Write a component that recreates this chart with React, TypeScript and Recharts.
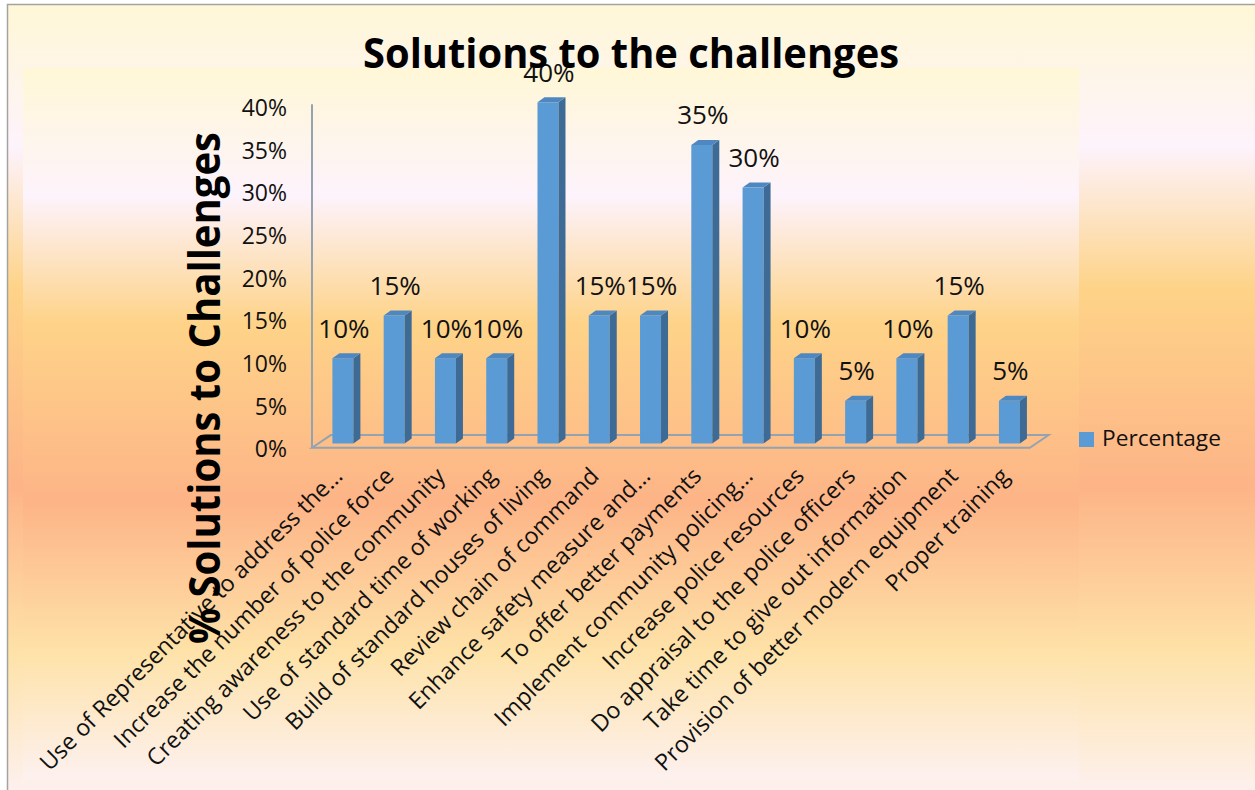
import React from "react";
import { Bar, BarChart, LabelList, ReferenceArea, XAxis, YAxis } from "recharts";

const categories = [
  "Use of Representative to address the…",
  "Increase the number of police force",
  "Creating awareness to the community",
  "Use of standard time of working",
  "Build of standard houses of living",
  "Review chain of command",
  "Enhance safety measure and…",
  "To offer better payments",
  "Implement community policing…",
  "Increase police resources",
  "Do appraisal to the police officers",
  "Take time to give out information",
  "Provision of better modern equipment",
  "Proper training",
];
const percentage = [0.1, 0.15, 0.1, 0.1, 0.4, 0.15, 0.15, 0.35, 0.3, 0.1, 0.05, 0.1, 0.15, 0.05];
const yTicks = [0, 0.05, 0.1, 0.15, 0.2, 0.25, 0.3, 0.35, 0.4];

const title = "Solutions to the challenges";
const yTitle = "% Solutions to Challenges";
const seriesName = "Percentage";

const data = categories.map((name, i) => ({ name, value: percentage[i] }));

const FONT = "'Open Sans', 'DejaVu Sans', sans-serif";
const pct = (v: number) => `${Math.round(v * 100)}%`;

const Bar3D = (props: any) => {
  const { x, y, width, height } = props;
  if (!height || height <= 0) return null;
  const dx = 7, dy = 5;
  return (
    <g>
      <rect x={x} y={y} width={width} height={height} fill="#5b9bd5" />
      <polygon
        points={`${x + width},${y} ${x + width + dx},${y - dy} ${x + width + dx},${y + height - dy} ${x + width},${y + height}`}
        fill="#3d6b96"
      />
      <polygon
        points={`${x},${y} ${x + dx},${y - dy} ${x + width + dx},${y - dy} ${x + width},${y}`}
        fill="#4f88c0"
      />
    </g>
  );
};

// floor of the 3D plot, drawn from the reference area's rect
const Floor = (props: any) => {
  const { x, y, width, height } = props;
  const fx = x - 5.4, bx = x + 13.4;
  return (
    <polygon
      points={`${fx},${y + height} ${bx},${y} ${bx + width},${y} ${fx + width},${y + height}`}
      fill="none"
      stroke="#95a3b0"
      strokeWidth={2}
    />
  );
};

const Wall = (props: any) => {
  const { x, y, height } = props;
  return <line x1={x - 5.4} y1={y + 2} x2={x - 5.4} y2={y + height} stroke="#95a3b0" strokeWidth={2} />;
};

const YTick = ({ x, y, payload }: any) => (
  <text x={x - 30.4} y={y + 5.5} dy="0.36em" textAnchor="end" fontFamily={FONT} fontSize={23} fill="#111">
    {pct(payload.value)}
  </text>
);

const XTick = ({ x, y, payload }: any) => {
  const ax = x + 1, ay = y + 34;
  return (
    <text
      x={ax}
      y={ay}
      transform={`rotate(-45, ${ax}, ${ay})`}
      textAnchor="end"
      fontFamily={FONT}
      fontSize={23.2}
      fill="#111"
    >
      {payload.value}
    </text>
  );
};

const ValueLabel = (props: any) => {
  const { x, y, width, value } = props;
  return (
    <text x={x + width / 2 + 1} y={y - 30} dy="0.36em" textAnchor="middle" fontFamily={FONT} fontSize={26} fill="#111">
      {pct(value)}
    </text>
  );
};

export default function App() {
  return (
    <div style={{ position: "absolute", left: 0, top: 0, width: 1255, height: 790 }}>
      <svg width={1255} height={790} style={{ position: "absolute", left: 0, top: 0 }}>
        <defs>
          <linearGradient id="bg" x1="0" y1="0" x2="0" y2="1">
            <stop offset="0" stopColor="#fff7d6" />
            <stop offset="0.18" stopColor="#fdf3fc" />
            <stop offset="0.36" stopColor="#fed388" />
            <stop offset="0.61" stopColor="#fdb487" />
            <stop offset="0.82" stopColor="#fee2a8" />
            <stop offset="1" stopColor="#fdf1f0" />
          </linearGradient>
        </defs>
        <rect x={7.5} y={4.5} width={1250} height={790} fill="url(#bg)" stroke="#a3a3a3" strokeWidth={1.5} />
        <rect x={23} y={68} width={1056} height={712} fill="url(#bg)" />
      </svg>

      <div style={{ position: "absolute", left: 0, top: 0 }}>
        <BarChart
          width={1255}
          height={790}
          data={data}
          margin={{ top: 102.3, right: 219.8, left: 0, bottom: 0 }}
        >
          <XAxis
            dataKey="name"
            height={346.5}
            axisLine={false}
            tickLine={false}
            tickSize={0}
            tickMargin={0}
            interval={0}
            tick={<XTick />}
          />
          <YAxis
            width={317.4}
            domain={[0, 0.4]}
            ticks={yTicks}
            axisLine={false}
            tickLine={false}
            tickSize={0}
            tickMargin={0}
            tick={<YTick />}
          />
          <ReferenceArea y1={-0.005} y2={0.4} ifOverflow="visible" shape={<Wall />} />
          <ReferenceArea y1={-0.005} y2={0.0099} ifOverflow="visible" shape={<Floor />} />
          <Bar dataKey="value" name={seriesName} barSize={21} shape={<Bar3D />} isAnimationActive={false}>
            <LabelList dataKey="value" content={<ValueLabel />} />
          </Bar>
        </BarChart>
      </div>

      <svg width={1255} height={790} style={{ position: "absolute", left: 0, top: 0, pointerEvents: "none" }}>
        <text
          x={631}
          y={68}
          textAnchor="middle"
          fontFamily={FONT}
          fontWeight="bold"
          fontSize={42}
          textLength={536}
          lengthAdjust="spacingAndGlyphs"
          fill="#000"
        >
          {title}
        </text>
        <text
          x={0}
          y={0}
          transform="translate(220, 388) rotate(-90)"
          textAnchor="middle"
          fontFamily={FONT}
          fontWeight="bold"
          fontSize={43}
          textLength={512}
          lengthAdjust="spacingAndGlyphs"
          fill="#000"
        >
          {yTitle}
        </text>
        <rect x={1079} y={432} width={15} height={15} fill="#5b9bd5" />
        <text x={1102} y={446} fontFamily={FONT} fontSize={22.7} fill="#111">
          {seriesName}
        </text>
      </svg>
    </div>
  );
}
